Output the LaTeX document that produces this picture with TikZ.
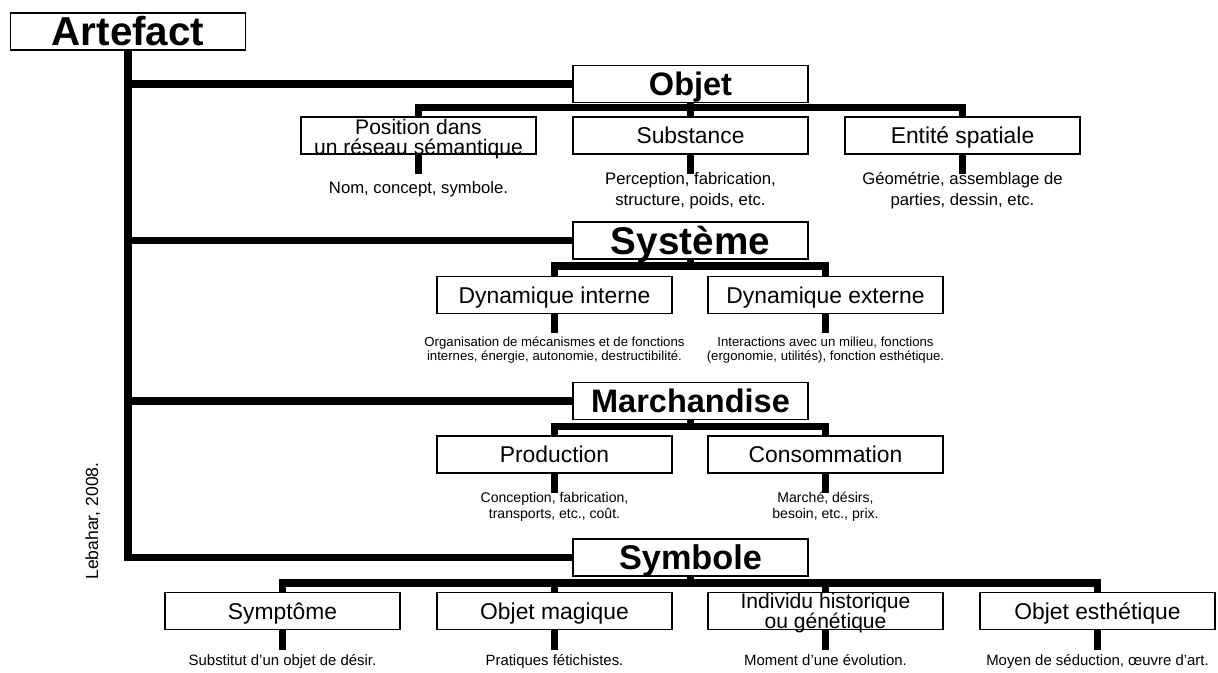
\documentclass[tikz,border=0pt]{standalone}
\usepackage{fontspec}
\setmainfont{Liberation Sans}
\usetikzlibrary{positioning}
\begin{document}
\begin{tikzpicture}[x=0.02cm,y=-0.02cm,
        box/.style={draw,line width=0.8pt,minimum width=4.7cm,minimum height=0.74cm,inner sep=0pt},
        head/.style={box,font=\fontsize{18.5}{20}\selectfont\bfseries,text height=14.5pt,text depth=1.3pt},
        sub/.style={box,font=\fontsize{13}{14}\selectfont,text height=11pt,text depth=1.7pt},
        bar/.style={line width=4.3pt},
        note/.style={align=center,inner sep=0pt}]
        \useasboundingbox (0,0) rectangle (1218,673);
        % root and main boxes
        \node[box,font=\fontsize{23}{24}\selectfont\bfseries,text height=18pt,text depth=1.5pt] (art) at (128,31.5) {Artefact};
        \node[head] (obj) at (690.5,84) {Objet};
        \node[head,font=\fontsize{22}{24}\selectfont\bfseries,text height=17pt,text depth=1.2pt] (sys) at (690.5,240.5) {Système};
        \node[head] (mar) at (690.5,401) {Marchandise};
        \node[head,font=\fontsize{19.5}{21}\selectfont\bfseries,text height=15pt,text depth=1pt] (sym) at (690.5,557.5) {Symbole};
        \node[rotate=90,font=\fontsize{10}{12}\selectfont] (src) at (93,521) {Lebahar, 2008.};
        % trunk
        \draw[bar] (art.south) |- (sym.west);
        \draw[bar] (art.south |- obj.west) -- (obj.west);
        \draw[bar] (art.south |- sys.west) -- (sys.west);
        \draw[bar] (art.south |- mar.west) -- (mar.west);
        % Objet
        \node[sub] (pos) at (418.5,135.5) {};
        \node[note,font=\fontsize{12}{11.6}\selectfont] (postxt) at (418.5,139) {Position dans\\un réseau sémantique};
        \node[sub] (sub) at (690.5,135.5) {Substance};
        \node[sub] (ent) at (962.5,135.5) {Entité spatiale};
        \draw[bar] (pos.north) -- ++(0,-9) coordinate (b1) -| (ent.north);
        \draw[bar] (obj.south) -- (sub.north);
        \draw[bar] (pos.south) -- ++(0,19) coordinate (e1);
        \draw[bar] (sub.south) -- ++(0,19) coordinate (e2);
        \draw[bar] (ent.south) -- ++(0,19) coordinate (e3);
        \node[note,anchor=base,font=\fontsize{9.5}{11.9}\selectfont] (dpos) at (418.5,193) {Nom, concept, symbole.};
        \node[note,font=\fontsize{9.5}{11.9}\selectfont] (dsub) at (690.5,191) {Perception, fabrication,\\structure, poids, etc.};
        \node[note,font=\fontsize{9.5}{11.9}\selectfont] (dent) at (962.5,191) {Géométrie, assemblage de\\parties, dessin, etc.};
        % Systeme
        \node[sub] (dyi) at (554.5,295) {Dynamique interne};
        \node[sub] (dye) at (825.5,295) {Dynamique externe};
        \draw[bar] (dyi.north) -- ++(0,-10) coordinate (b2) -| (dye.north);
        \draw[bar] (sys.south) -- (sys.south |- b2);
        \draw[bar] (dyi.south) -- ++(0,19) coordinate (e4);
        \draw[bar] (dye.south) -- ++(0,19) coordinate (e5);
        \node[note,font=\fontsize{7.5}{7.9}\selectfont] (ddyi) at (554.5,350) {Organisation de mécanismes et de fonctions\\internes, énergie, autonomie, destructibilité.};
        \node[note,font=\fontsize{7.5}{7.9}\selectfont] (ddye) at (825.5,350) {Interactions avec un milieu, fonctions\\(ergonomie, utilités), fonction esthétique.};
        % Marchandise
        \node[sub] (pro) at (554.5,454.5) {Production};
        \node[sub] (con) at (825.5,454.5) {Consommation};
        \draw[bar] (pro.north) -- ++(0,-9) coordinate (b3) -| (con.north);
        \draw[bar] (mar.south) -- (mar.south |- b3);
        \draw[bar] (pro.south) -- ++(0,19) coordinate (e6);
        \draw[bar] (con.south) -- ++(0,19) coordinate (e7);
        \node[note,font=\fontsize{8}{9}\selectfont] (dpro) at (554.5,507) {Conception, fabrication,\\transports, etc., coût.};
        \node[note,font=\fontsize{8}{9}\selectfont] (dcon) at (825.5,507) {Marché, désirs,\\besoin, etc., prix.};
        % Symbole
        \node[sub] (sy1) at (282.5,611) {Symptôme};
        \node[sub] (sy2) at (554.5,611) {Objet magique};
        \node[sub] (sy3) at (825.5,611) {};
        \node[note,font=\fontsize{12}{11.6}\selectfont] (sy3txt) at (825.5,613) {Individu historique\\ou génétique};
        \node[sub] (sy4) at (1097.5,611) {Objet esthétique};
        \draw[bar] (sy1.north) -- ++(0,-9) coordinate (b4) -| (sy4.north);
        \draw[bar] (sym.south) -- (sym.south |- b4);
        \draw[bar] (sy2.north |- b4) -- (sy2.north);
        \draw[bar] (sy3.north |- b4) -- (sy3.north);
        \draw[bar] (sy1.south) -- ++(0,20) coordinate (e8);
        \draw[bar] (sy2.south) -- ++(0,20) coordinate (e9);
        \draw[bar] (sy3.south) -- ++(0,20) coordinate (e10);
        \draw[bar] (sy4.south) -- ++(0,20) coordinate (e11);
        \node[note,anchor=base,font=\fontsize{8.5}{10}\selectfont] (dsy1) at (282.5,665) {Substitut d’un objet de désir.};
        \node[note,anchor=base,font=\fontsize{8.5}{10}\selectfont] (dsy2) at (554.5,665) {Pratiques fétichistes.};
        \node[note,anchor=base,font=\fontsize{8.5}{10}\selectfont] (dsy3) at (825.5,665) {Moment d’une évolution.};
        \node[note,anchor=base,font=\fontsize{8.5}{10}\selectfont] (dsy4) at (1097.5,665) {Moyen de séduction, œuvre d’art.};
        \end{tikzpicture}
\end{document}
